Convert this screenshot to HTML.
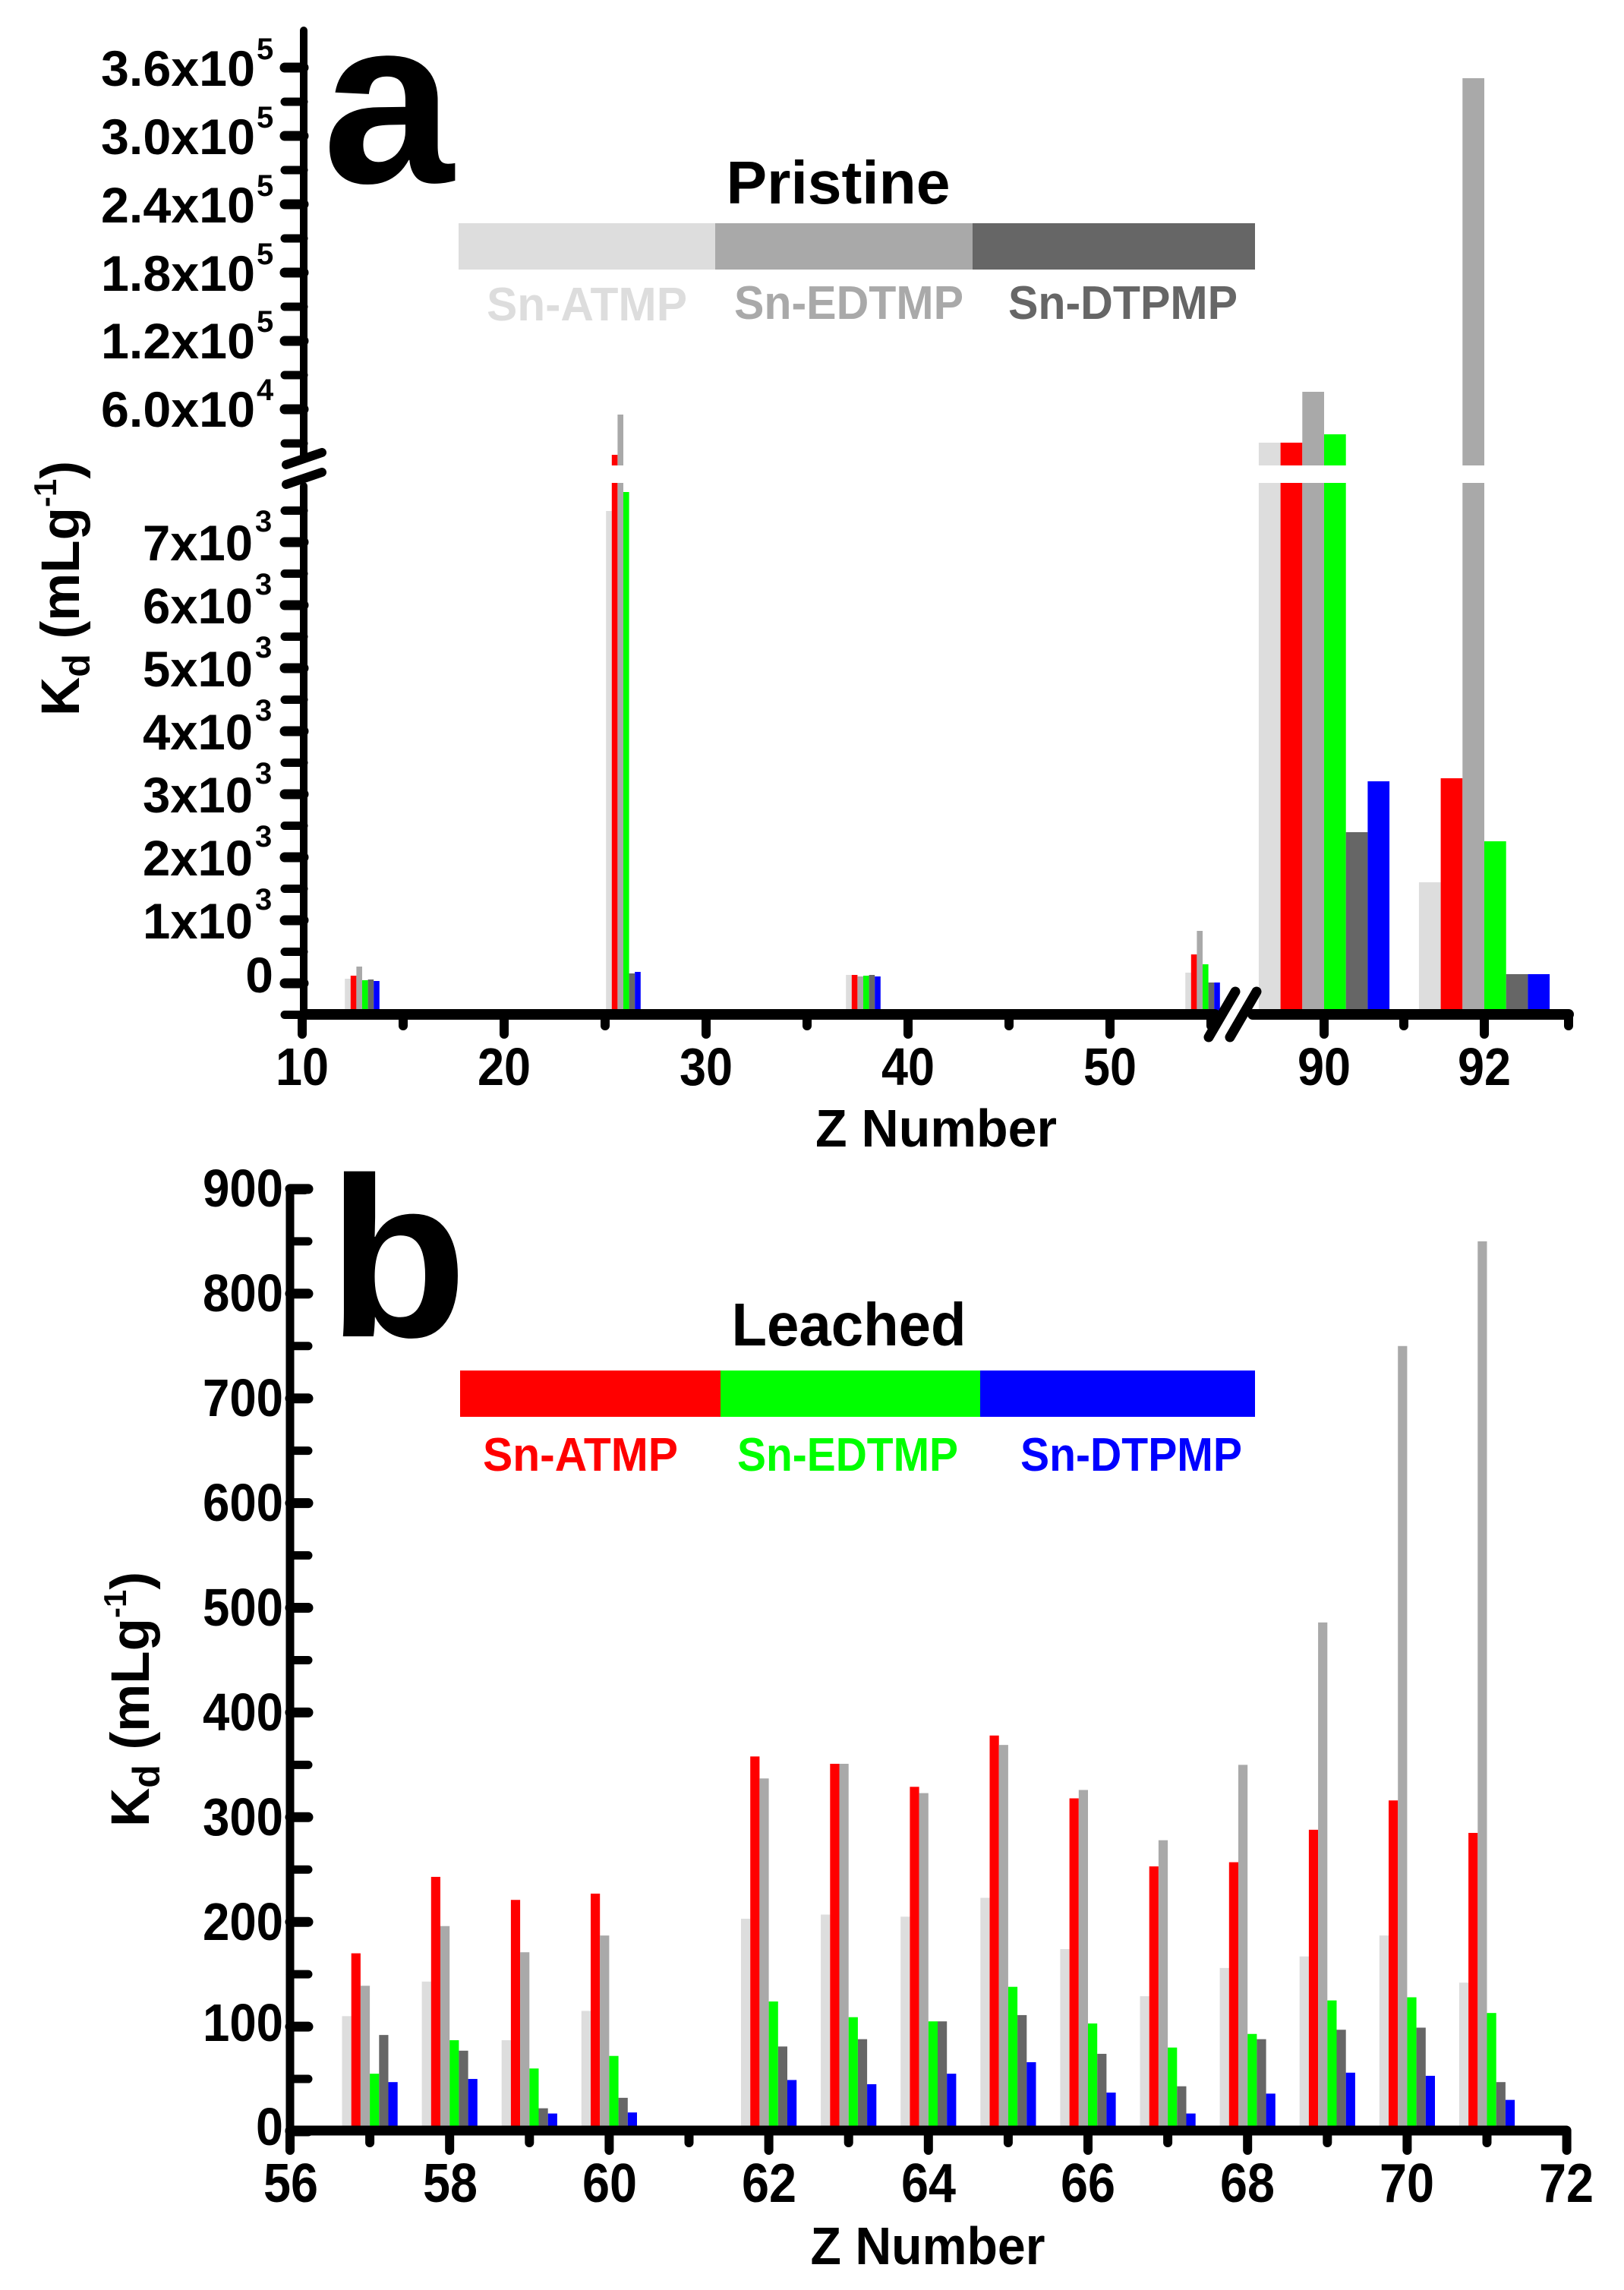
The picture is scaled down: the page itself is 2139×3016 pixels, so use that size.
<!DOCTYPE html>
<html><head><meta charset="utf-8"><style>
html,body{margin:0;padding:0;background:#fff;}
svg{display:block;}
text{font-family:"Liberation Sans",sans-serif;font-weight:bold;}
</style></head><body>
<svg id="s" width="2139" height="3016" viewBox="0 0 2139 3016" xmlns="http://www.w3.org/2000/svg">
<rect width="2139" height="3016" fill="#fff"/>
<g id="bars"></g>
<g id="axes" stroke="#000" fill="none" stroke-linecap="round"></g>

<!-- Panel a text -->
<text x="425" y="240" font-size="310">a</text>
<text x="1104" y="268" font-size="80" text-anchor="middle" textLength="295" lengthAdjust="spacingAndGlyphs">Pristine</text>
<rect x="604" y="294" width="338" height="61" fill="#dddddd"/>
<rect x="942" y="294" width="339" height="61" fill="#a9a9a9"/>
<rect x="1281" y="294" width="372" height="61" fill="#666666"/>
<text x="641" y="422" font-size="62" fill="#dddddd" textLength="264" lengthAdjust="spacingAndGlyphs">Sn-ATMP</text>
<text x="967" y="420" font-size="62" fill="#a9a9a9" textLength="302" lengthAdjust="spacingAndGlyphs">Sn-EDTMP</text>
<text x="1328" y="420" font-size="62" fill="#666666" textLength="302" lengthAdjust="spacingAndGlyphs">Sn-DTPMP</text>

<g font-size="66" text-anchor="end">
<text x="336" y="113" textLength="203" lengthAdjust="spacingAndGlyphs">3.6x10</text>
<text x="336" y="203" textLength="203" lengthAdjust="spacingAndGlyphs">3.0x10</text>
<text x="336" y="293" textLength="203" lengthAdjust="spacingAndGlyphs">2.4x10</text>
<text x="336" y="383" textLength="203" lengthAdjust="spacingAndGlyphs">1.8x10</text>
<text x="336" y="472" textLength="203" lengthAdjust="spacingAndGlyphs">1.2x10</text>
<text x="336" y="562" textLength="203" lengthAdjust="spacingAndGlyphs">6.0x10</text>
<text x="333" y="738" textLength="145" lengthAdjust="spacingAndGlyphs">7x10</text>
<text x="333" y="821" textLength="145" lengthAdjust="spacingAndGlyphs">6x10</text>
<text x="333" y="904" textLength="145" lengthAdjust="spacingAndGlyphs">5x10</text>
<text x="333" y="987" textLength="145" lengthAdjust="spacingAndGlyphs">4x10</text>
<text x="333" y="1070" textLength="145" lengthAdjust="spacingAndGlyphs">3x10</text>
<text x="333" y="1153" textLength="145" lengthAdjust="spacingAndGlyphs">2x10</text>
<text x="333" y="1236" textLength="145" lengthAdjust="spacingAndGlyphs">1x10</text>
<text x="360" y="1307">0</text>
</g>
<g font-size="40">
<text x="338" y="78">5</text><text x="338" y="168">5</text><text x="338" y="258">5</text>
<text x="338" y="348">5</text><text x="338" y="437">5</text><text x="338" y="527">4</text>
<text x="336" y="700">3</text><text x="336" y="783">3</text><text x="336" y="866">3</text>
<text x="336" y="949">3</text><text x="336" y="1032">3</text><text x="336" y="1115">3</text>
<text x="336" y="1198">3</text>
</g>
<g font-size="70" text-anchor="middle">
<text x="398" y="1429" textLength="70" lengthAdjust="spacingAndGlyphs">10</text>
<text x="664" y="1429" textLength="70" lengthAdjust="spacingAndGlyphs">20</text>
<text x="930" y="1429" textLength="70" lengthAdjust="spacingAndGlyphs">30</text>
<text x="1196" y="1429" textLength="70" lengthAdjust="spacingAndGlyphs">40</text>
<text x="1462" y="1429" textLength="70" lengthAdjust="spacingAndGlyphs">50</text>
<text x="1744" y="1429" textLength="70" lengthAdjust="spacingAndGlyphs">90</text>
<text x="1955" y="1429" textLength="70" lengthAdjust="spacingAndGlyphs">92</text>
</g>
<text x="1233" y="1510" font-size="70" text-anchor="middle" textLength="318" lengthAdjust="spacingAndGlyphs">Z Number</text>
<text transform="translate(104,775) rotate(-90)" font-size="71" text-anchor="middle">K<tspan font-size="50" dy="14">d</tspan><tspan dy="-14"> (mLg</tspan><tspan font-size="42" dy="-30">-1</tspan><tspan dy="30">)</tspan></text>

<!-- Panel b text -->
<text x="432" y="1760" font-size="300">b</text>
<text x="1118" y="1772" font-size="80" text-anchor="middle" textLength="309" lengthAdjust="spacingAndGlyphs">Leached</text>
<rect x="606" y="1805" width="343" height="61" fill="#ff0000"/>
<rect x="949" y="1805" width="342" height="61" fill="#00ff00"/>
<rect x="1291" y="1805" width="362" height="61" fill="#0000ff"/>
<text x="636" y="1937" font-size="62" fill="#ff0000" textLength="257" lengthAdjust="spacingAndGlyphs">Sn-ATMP</text>
<text x="971" y="1937" font-size="62" fill="#00ff00" textLength="291" lengthAdjust="spacingAndGlyphs">Sn-EDTMP</text>
<text x="1344" y="1937" font-size="62" fill="#0000ff" textLength="292" lengthAdjust="spacingAndGlyphs">Sn-DTPMP</text>
<g font-size="70" text-anchor="end">
<text x="373" y="1589" textLength="106" lengthAdjust="spacingAndGlyphs">900</text>
<text x="373" y="1727" textLength="106" lengthAdjust="spacingAndGlyphs">800</text>
<text x="373" y="1865" textLength="106" lengthAdjust="spacingAndGlyphs">700</text>
<text x="373" y="2003" textLength="106" lengthAdjust="spacingAndGlyphs">600</text>
<text x="373" y="2141" textLength="106" lengthAdjust="spacingAndGlyphs">500</text>
<text x="373" y="2279" textLength="106" lengthAdjust="spacingAndGlyphs">400</text>
<text x="373" y="2417" textLength="106" lengthAdjust="spacingAndGlyphs">300</text>
<text x="373" y="2555" textLength="106" lengthAdjust="spacingAndGlyphs">200</text>
<text x="373" y="2688" textLength="106" lengthAdjust="spacingAndGlyphs">100</text>
<text x="373" y="2825" textLength="36" lengthAdjust="spacingAndGlyphs">0</text>
</g>
<g font-size="72" text-anchor="middle">
<text x="383" y="2900" textLength="72" lengthAdjust="spacingAndGlyphs">56</text>
<text x="593" y="2900" textLength="72" lengthAdjust="spacingAndGlyphs">58</text>
<text x="803" y="2900" textLength="72" lengthAdjust="spacingAndGlyphs">60</text>
<text x="1013" y="2900" textLength="72" lengthAdjust="spacingAndGlyphs">62</text>
<text x="1223" y="2900" textLength="72" lengthAdjust="spacingAndGlyphs">64</text>
<text x="1433" y="2900" textLength="72" lengthAdjust="spacingAndGlyphs">66</text>
<text x="1643" y="2900" textLength="72" lengthAdjust="spacingAndGlyphs">68</text>
<text x="1853" y="2900" textLength="72" lengthAdjust="spacingAndGlyphs">70</text>
<text x="2063" y="2900" textLength="72" lengthAdjust="spacingAndGlyphs">72</text>
</g>
<text x="1222" y="2982" font-size="70" text-anchor="middle" textLength="309" lengthAdjust="spacingAndGlyphs">Z Number</text>
<text transform="translate(196,2238) rotate(-90)" font-size="71" text-anchor="middle">K<tspan font-size="50" dy="14">d</tspan><tspan dy="-14"> (mLg</tspan><tspan font-size="42" dy="-30">-1</tspan><tspan dy="30">)</tspan></text>
</svg>
<script>
var NS="http://www.w3.org/2000/svg";
var B=document.getElementById('bars'),A=document.getElementById('axes');
function el(p,t,a){var e=document.createElementNS(NS,t);for(var k in a)e.setAttribute(k,a[k]);p.appendChild(e);return e;}
var C=['#dddddd','#ff0000','#a9a9a9','#00ff00','#666666','#0000ff'];
// Panel a
var ybot=1336;
function ga(cx,w,tops){for(var i=0;i<6;i++){var x=cx+(i-3)*w;el(B,'rect',{x:x,y:tops[i],width:w,height:ybot-tops[i],fill:C[i]});}}
ga(477,7.6,[1289,1285,1273,1291,1290,1292]);
ga(821,7.6,[673,599,546,648,1282,1280]);
ga(1137,7.6,[1284,1284,1286,1285,1284,1286]);
ga(1584,7.6,[1281,1257,1226,1270,1294,1294]);
ga(1744,28.7,[583,583,516,572,1096,1029]);
ga(1955,28.7,[1162,1025,103,1108,1283,1283]);
el(B,'rect',{x:405,y:613,width:1700,height:23,fill:'#fff'});
// y axis a
el(A,'line',{x1:400,y1:40,x2:400,y2:600,'stroke-width':10});
el(A,'line',{x1:400,y1:640,x2:400,y2:1336,'stroke-width':10});
for(var v=0;v<=360000;v+=30000){var y=629-v*0.0015;if(y<620&&y>60)el(A,'line',{x1:375,y1:y,x2:400,y2:y,'stroke-width':(v%60000==0)?13:11});}
for(var v=-500;v<=8000;v+=500){var y=1295-v*0.083;if(y>640)el(A,'line',{x1:375,y1:y,x2:400,y2:y,'stroke-width':(v%1000==0)?13:11});}
el(A,'line',{x1:377,y1:612,x2:424,y2:596,'stroke-width':12});
el(A,'line',{x1:377,y1:638,x2:424,y2:622,'stroke-width':12});
// x axis a
el(A,'line',{x1:400,y1:1336,x2:1600,y2:1336,'stroke-width':14});
el(A,'line',{x1:1650,y1:1336,x2:2066,y2:1336,'stroke-width':14});
for(var z=10;z<=55;z+=5){var x=398+(z-10)*26.6;el(A,'line',{x1:x,y1:1336,x2:x,y2:(z%10==0)?1362:1351,'stroke-width':12});}
[[1744,1362],[1955,1362],[1849,1351],[2066,1351]].forEach(function(p){el(A,'line',{x1:p[0],y1:1336,x2:p[0],y2:p[1],'stroke-width':12});});
el(A,'line',{x1:1592,y1:1366,x2:1627,y2:1306,'stroke-width':13});
el(A,'line',{x1:1620,y1:1366,x2:1655,y2:1306,'stroke-width':13});
// Panel b
var yb0=2807,k=1.379,bw=12.2;
var D={57:[110,170,139,55,92,47],58:[143,243,196,87,77,50],59:[87,221,171,60,22,17],60:[115,227,187,72,32,18],
62:[203,358,337,124,81,49],63:[207,351,351,109,88,45],64:[205,329,323,105,105,55],65:[223,378,369,138,111,66],
66:[174,318,326,103,74,37],67:[129,253,278,80,43,17],68:[156,257,350,93,88,36],69:[167,288,486,125,97,56],
70:[187,316,750,128,99,53],71:[142,285,850,113,47,30]};
for(var z in D){var cx=382+(z-56)*105.1;for(var i=0;i<6;i++){var h=D[z][i]*k;el(B,'rect',{x:cx+(i-3)*bw,y:yb0-h,width:bw,height:h,fill:C[i]});}}
el(A,'line',{x1:382,y1:1568,x2:382,y2:2830,'stroke-width':11});
el(A,'line',{x1:382,y1:1568,x2:402,y2:1568,'stroke-width':10});
for(var v=0;v<=900;v+=50){var y=yb0-v*k;el(A,'line',{x1:382,y1:y,x2:406,y2:y,'stroke-width':(v%100==0)?13:11});}
el(A,'line',{x1:382,y1:2806,x2:2063,y2:2806,'stroke-width':13});
for(var z=56;z<=72;z++){var x=382+(z-56)*105.1;el(A,'line',{x1:x,y1:2806,x2:x,y2:(z%2==0)?2832:2822,'stroke-width':12});}
</script>
</body></html>
